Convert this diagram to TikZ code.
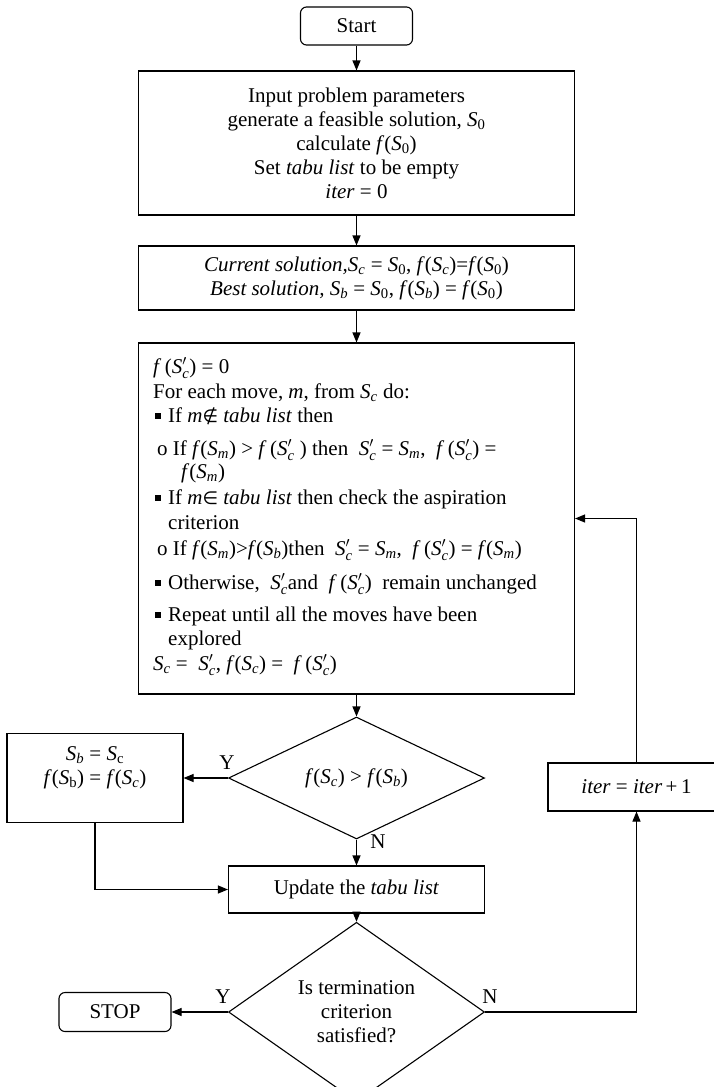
\documentclass[tikz,border=0pt]{standalone}
\usepackage{amsmath}
\usepackage{fontspec}
\setmainfont{Liberation Serif}
\newfontfamily\symfont[Scale=0.85]{DejaVu Sans}
\usetikzlibrary{arrows.meta,shapes.geometric}
\newcommand{\Scp}{\textit{S}$^{\prime}_{\text{\itshape c}}$}
\newcommand{\Sub}[2]{\textit{#1}\textsubscript{\textit{#2}}}
\newcommand{\bul}{\raisebox{3pt}{\rule{6pt}{6pt}}\hspace{7pt}}
\begin{document}
\begin{tikzpicture}[x=1pt,y=-1pt,
  every node/.style={font=\fontsize{21}{24}\selectfont},
  box/.style={draw, line width=1.1pt, inner sep=0pt, align=center},
  rbox/.style={box, rounded corners=6pt},
  dia/.style={box, shape=diamond},
  txt/.style={inner sep=0pt, anchor=base west},
  arr/.style={line width=1.1pt, -{Triangle[length=10pt,width=8pt]}}]
\useasboundingbox (0,0) rectangle (714,1087);

\node[rbox, minimum width=112pt, minimum height=38pt] (start) at (356.5,26) {Start};
\node[box, minimum width=436pt, minimum height=144pt] (init) at (356.5,143)
  {Input problem parameters\\ generate a feasible solution, \textit{S}\textsubscript{0}\\
   calculate \textit{f}(\textit{S}\textsubscript{0})\\ Set \textit{tabu list} to be empty\\ \textit{iter} = 0};
\node[box, minimum width=436pt, minimum height=64pt] (cur) at (356.5,278)
  {\textit{Current solution,}\Sub{S}{c} = \textit{S}\textsubscript{0}, \textit{f}(\Sub{S}{c})=\textit{f}(\textit{S}\textsubscript{0})\\
   \textit{Best solution,} \Sub{S}{b} = \textit{S}\textsubscript{0}, \textit{f}(\Sub{S}{b}) = \textit{f}(\textit{S}\textsubscript{0})};
\node[box, minimum width=436pt, minimum height=351pt] (main) at (356.5,518.5) {};

\node[txt] (l1) at (153,373) {\textit{f}\,(\Scp) = 0};
\node[txt] (l2) at (153,398) {For each move, \textit{m}, from \Sub{S}{c} do:};
\node[txt] (l3) at (155,422) {\bul If \textit{m}{\symfont ∉} \textit{tabu list} then};
\node[txt] (l4) at (157,455) {o If \textit{f}(\Sub{S}{m}) > \textit{f}\,(\Scp\ ) then \ \Scp{} = \Sub{S}{m}, \ \textit{f}\,(\Scp) =};
\node[txt] (l5) at (181,478) {\textit{f}(\Sub{S}{m})};
\node[txt] (l6) at (155,504) {\bul If \textit{m}{\symfont ∈} \textit{tabu list} then check the aspiration};
\node[txt] (l7) at (168,529) {criterion};
\node[txt] (l8) at (157,555) {o If \textit{f}(\Sub{S}{m})>\textit{f}(\Sub{S}{b})then \ \Scp{} = \Sub{S}{m}, \ \textit{f}\,(\Scp) = \textit{f}(\Sub{S}{m})};
\node[txt] (l9) at (155,589) {\bul Otherwise, \ \Scp{}and \ \textit{f}\,(\Scp) \ remain unchanged};
\node[txt] (l10) at (155,621) {\bul Repeat until all the moves have been};
\node[txt] (l11) at (168,645) {explored};
\node[txt] (l12) at (153,670) {\Sub{S}{c} = \ \Scp, \textit{f}(\Sub{S}{c}) = \ \textit{f}\,(\Scp)};

\node[dia, minimum width=256pt, minimum height=95pt] (d1) at (356.5,778)
  {\textit{f}(\Sub{S}{c}) > \textit{f}(\Sub{S}{b})};
\node[box, minimum width=176pt, minimum height=89pt] (sb) at (95,778) {};
\node[inner sep=0pt, align=center] (sbt) at (95,768)
  {\Sub{S}{b} = \textit{S}\textsubscript{c}\\ \textit{f}(\textit{S}\textsubscript{b}) = \textit{f}(\Sub{S}{c})};
\node[box, minimum width=256pt, minimum height=47pt] (upd) at (356.5,889.5) {Update the \textit{tabu list}};
\node[box, minimum width=177pt, minimum height=48pt] (iter) at (636.5,787) {\textit{iter} = \textit{iter}\,+\,1};
\node[dia, minimum width=256pt, minimum height=148pt] (d2) at (356.5,1012)
  {Is termination\\ criterion\\ satisfied?};
\node[rbox, minimum width=112pt, minimum height=39pt] (stop) at (115,1012) {STOP};

\node (y1) at (227,763) {Y};
\node (n1) at (378,842) {N};
\node (y2) at (223,997) {Y};
\node (n2) at (490,997) {N};

\draw[arr] (start) -- (init);
\draw[arr] (init) -- (cur);
\draw[arr] (cur) -- (main);
\draw[arr] (main) -- (d1);
\draw[arr] (d1) -- (sb);
\draw[arr] (d1) -- (upd);
\draw[arr] (sb.south) |- (upd.west);
\draw[arr] (upd) -- (d2);
\draw[arr] (d2) -- (stop);
\draw[arr] (d2.east) -| (iter.south);
\draw[arr] (iter.north) |- (main.east);
\end{tikzpicture}
\end{document}
